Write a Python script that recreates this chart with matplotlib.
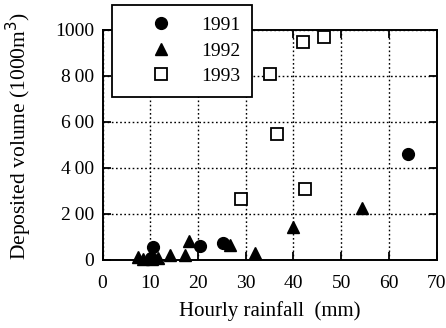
import matplotlib
matplotlib.use("Agg")
import matplotlib.pyplot as plt

# Data
rain_1991 = [10.5, 10.2, 20.5, 25.2, 64.0]
vol_1991 = [55, 5, 60, 70, 460]

rain_1992 = [7.4, 8.4, 10.4, 11.6, 14.2, 17.3, 18.2, 26.8, 32.0, 40.0, 54.4]
vol_1992 = [10, 3, 3, 5, 18, 20, 82, 65, 28, 140, 225]

rain_1993 = [29.0, 35.0, 36.5, 42.0, 42.5, 46.5]
vol_1993 = [262, 808, 548, 948, 308, 968]

xticks = [0, 10, 20, 30, 40, 50, 60, 70]
yticks = [0, 200, 400, 600, 800, 1000]
ytick_labels = ["0", "2\u200900", "4\u200900", "6\u200900", "8\u200900", "1000"]
series_labels = ["1991", "1992", "1993"]

plt.rcParams['font.family'] = ['Liberation Serif', 'DejaVu Serif']

W, H = 446, 328
fig = plt.figure(figsize=(W / 100, H / 100), dpi=100)
ax = fig.add_axes([102.5 / W, 1 - 259.5 / H, (436.5 - 102.5) / W, (259.5 - 30) / H])

ax.plot(rain_1991, vol_1991, linestyle='none', marker='o', markersize=8.5,
        color='black', label=series_labels[0], zorder=3, clip_on=False)
ax.plot(rain_1992, vol_1992, linestyle='none', marker='^', markersize=9,
        color='black', label=series_labels[1], zorder=3, clip_on=False)
ax.plot(rain_1993, vol_1993, linestyle='none', marker='s', markersize=8,
        markerfacecolor='white', markeredgecolor='black', markeredgewidth=1.3,
        label=series_labels[2], zorder=3, clip_on=False)

ax.set_xlim(0, 70)
ax.set_ylim(0, 1000)
ax.set_xticks(xticks)
ax.set_yticks(yticks)
ax.set_yticklabels(ytick_labels)
ax.grid(True, linestyle=(0, (1.2, 1.8)), color='black', linewidth=1.0)
ax.tick_params(direction='in', length=6, width=1.3, top=True, right=True,
               labelsize=14, colors='black')
ax.tick_params(axis='x', pad=11)
ax.tick_params(axis='y', pad=6)
for s in ax.spines.values():
    s.set_linewidth(1.4)

ax.set_xlabel("Hourly rainfall  (mm)", fontsize=15, labelpad=7)
ax.set_ylabel("Deposited volume (1000m$^3$)", fontsize=15.5)
ax.yaxis.set_label_coords(-0.205, 0.54)

leg = fig.legend(loc='upper left', bbox_to_anchor=(112 / W, 1 - 5 / H),
                 numpoints=1, frameon=True, fancybox=False, fontsize=14,
                 borderpad=0.6, handletextpad=0.2, handlelength=3.8,
                 labelspacing=0.4, borderaxespad=0)
leg.get_frame().set_edgecolor('black')
leg.get_frame().set_linewidth(1.3)
leg.get_frame().set_alpha(1)

fig.savefig("out.png", dpi=100)
